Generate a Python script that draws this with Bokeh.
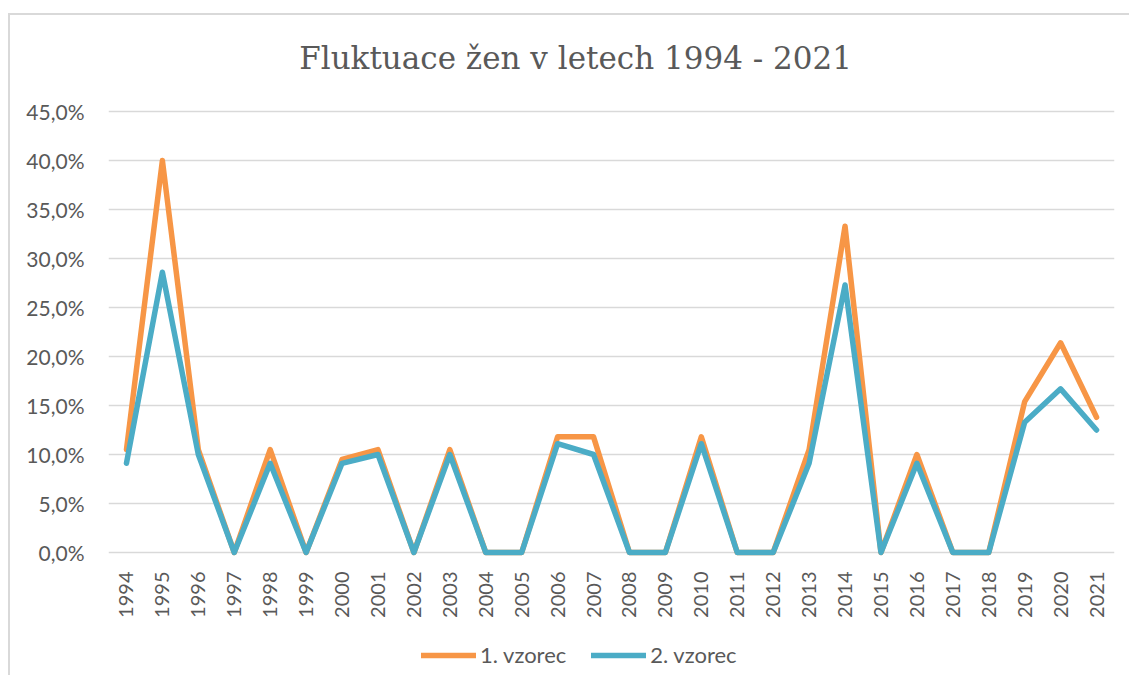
from bokeh.plotting import figure
from bokeh.models import (ColumnDataSource, FactorRange, Range1d, FixedTicker,
                          Legend, LegendItem, Label)
from bokeh.embed import file_html
from bokeh.resources import INLINE
from math import pi

# ---- data ----
years = ["1994", "1995", "1996", "1997", "1998", "1999", "2000", "2001", "2002",
         "2003", "2004", "2005", "2006", "2007", "2008", "2009", "2010", "2011",
         "2012", "2013", "2014", "2015", "2016", "2017", "2018", "2019", "2020",
         "2021"]
vzorec1 = [10.5, 40.0, 10.5, 0.0, 10.5, 0.0, 9.5, 10.5, 0.0, 10.5, 0.0, 0.0,
           11.8, 11.8, 0.0, 0.0, 11.8, 0.0, 0.0, 10.5, 33.3, 0.0, 10.0, 0.0,
           0.0, 15.4, 21.4, 13.8]
vzorec2 = [9.1, 28.6, 10.0, 0.0, 9.1, 0.0, 9.1, 10.0, 0.0, 10.0, 0.0, 0.0,
           11.1, 10.0, 0.0, 0.0, 11.1, 0.0, 0.0, 9.1, 27.3, 0.0, 9.1, 0.0,
           0.0, 13.3, 16.7, 12.5]
series_names = ["1. vzorec", "2. vzorec"]
y_ticks = [0, 5, 10, 15, 20, 25, 30, 35, 40, 45]
y_tick_labels = ["0,0%", "5,0%", "10,0%", "15,0%", "20,0%", "25,0%", "30,0%",
                 "35,0%", "40,0%", "45,0%"]
title_text = "Fluktuace žen v letech 1994 - 2021"

source = ColumnDataSource(dict(year=years, v1=vzorec1, v2=vzorec2))

GREY = "#595959"
ORANGE = "#F79646"
TEAL = "#4BACC6"

# vertical layout: 45 % gridline 96 px below canvas top, 0 % line 537 px below,
# canvas 662 px high -> 9.8 px per percent point
PX = 441 / 45.0
y_top = 45 + 96 / PX
y_bottom = -(662 - 537) / PX

p = figure(x_range=FactorRange(*years, range_padding=0),
           y_range=Range1d(y_bottom, y_top),
           width=1121, height=662,
           min_border_left=98, min_border_right=17,
           min_border_top=0, min_border_bottom=0,
           output_backend="svg", toolbar_location=None,
           background_fill_color="white", border_fill_color="white")
p.outline_line_color = None
p.styles = {"margin-left": "8px", "margin-top": "13px",
            "border-top": "2px solid #d9d9d9",
            "border-left": "2px solid #d9d9d9"}

r1 = p.line("year", "v1", source=source, line_color=ORANGE, line_width=5.5,
            line_join="round", line_cap="round")
r2 = p.line("year", "v2", source=source, line_color=TEAL, line_width=5.5,
            line_join="round", line_cap="round")

# y axis
p.yaxis.ticker = FixedTicker(ticks=y_ticks)
p.yaxis.major_label_overrides = {t: l for t, l in zip(y_ticks, y_tick_labels)}
p.yaxis.axis_line_color = None
p.yaxis.major_tick_line_color = None
p.yaxis.minor_tick_line_color = None
p.yaxis.major_label_standoff = 18
p.yaxis.major_label_text_font = "Lato"
p.yaxis.major_label_text_font_size = "21px"
p.yaxis.major_label_text_color = GREY

# x axis drawn at the 0 % line
p.xaxis.fixed_location = 0
p.xaxis.axis_line_color = None
p.xaxis.major_tick_line_color = None
p.xaxis.minor_tick_line_color = None
p.xaxis.major_label_orientation = pi / 2
p.xaxis.major_label_standoff = 13
p.xaxis.major_label_text_font = "Lato"
p.xaxis.major_label_text_font_size = "20px"
p.xaxis.major_label_text_color = GREY

p.xgrid.grid_line_color = None
p.ygrid.ticker = FixedTicker(ticks=y_ticks)
p.ygrid.grid_line_color = "#d9d9d9"
p.ygrid.grid_line_width = 1.3

title = Label(x=13.0, y=45 + 54 / PX, text=title_text,
              text_align="center", text_baseline="middle",
              text_font="DejaVu Serif", text_font_size="31px",
              text_color=GREY)
p.add_layout(title)

legend = Legend(items=[LegendItem(label=series_names[0], renderers=[r1]),
                       LegendItem(label=series_names[1], renderers=[r2])],
                orientation="horizontal", location=(313, 9),
                glyph_width=55, glyph_height=24, label_height=24,
                label_standoff=4, spacing=25, padding=0, margin=0,
                border_line_color=None, background_fill_alpha=0,
                label_text_font="Lato", label_text_font_size="22px",
                label_text_color=GREY)
p.add_layout(legend)

open("out.html", "w").write(file_html(p, INLINE))
